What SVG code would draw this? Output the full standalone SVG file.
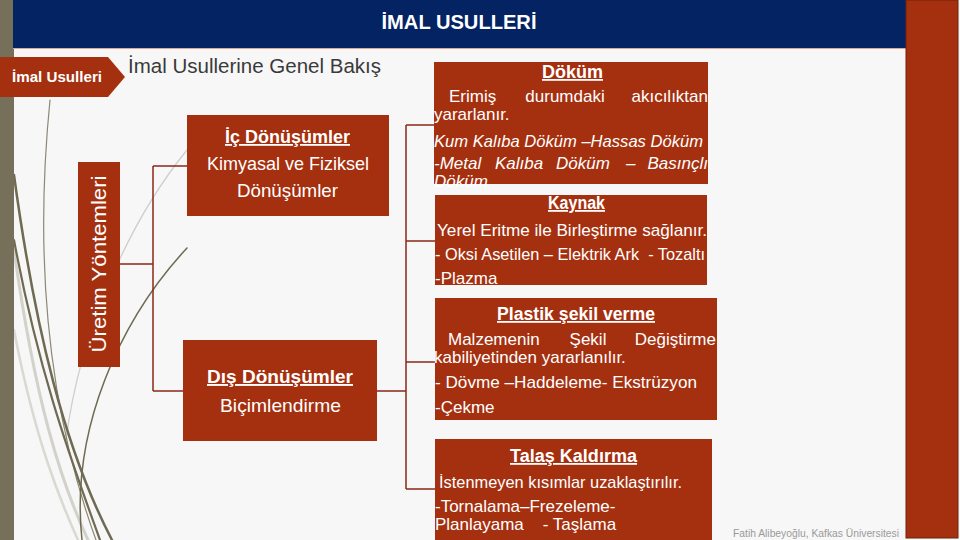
<svg xmlns="http://www.w3.org/2000/svg" width="960" height="540" viewBox="0 0 960 540">
<style>
.box{fill:#a5300f}
.t{fill:#ffffff;font-family:"Liberation Sans",Arial,sans-serif;font-size:17px}
.b{font-weight:bold}
.u{text-decoration:underline}
.i{font-style:italic}
.m{text-anchor:middle}
.e{text-anchor:end}
.conn{fill:none;stroke:#8a2a18;stroke-width:1.5}
.deco{fill:none;stroke-linecap:round}
</style>
<rect x="0" y="0" width="960" height="540" fill="#f7f7f7"/>
<!-- decorative curves -->
<g id="decor">
<path class="deco" d="M 14 250 C 35 400, 60 480, 88 540" stroke="#d2d2cb" stroke-width="3"/>
<path class="deco" d="M 14 330 C 35 440, 60 500, 78 540" stroke="#d9d9d3" stroke-width="2.5"/>
<path class="deco" d="M 66 440 C 80 330, 130 220, 187 150" stroke="#cfcfca" stroke-width="1.3"/>
<path class="deco" d="M 50 100 C 38 220, 38 380, 96 540" stroke="#8d8874" stroke-width="1.2"/>
<path class="deco" d="M 14 175 C 35 330, 65 450, 112 540" stroke="#6f6a52" stroke-width="2.5"/>
<path class="deco" d="M 14 240 C 40 380, 75 470, 100 540" stroke="#6f6a52" stroke-width="2.2"/>
<path class="deco" d="M 82 540 C 70 430, 120 320, 187 248" stroke="#6f6a52" stroke-width="1.5"/>
</g>
<!-- frame -->
<rect x="0" y="0" width="14" height="540" fill="#76705a"/>
<rect x="13" y="0" width="893" height="48" fill="#042363"/>
<line x1="13" y1="48.5" x2="906" y2="48.5" stroke="#d8a999" stroke-width="1"/>
<rect x="906" y="0" width="52" height="538" fill="#a5300f" stroke="#6e200c" stroke-width="1"/>
<text x="459" y="29" class="t b m" style="font-size:20px" textLength="155" lengthAdjust="spacingAndGlyphs">İMAL USULLERİ</text>
<g id="tag">
<polygon points="0,57 108,57 125,77 108,97 0,97" class="box"/>
<text x="57" y="82" class="t b m" style="font-size:15px" textLength="90" lengthAdjust="spacingAndGlyphs">İmal Usulleri</text>
</g>
<text x="128" y="73" style="font-family:'Liberation Sans',Arial,sans-serif;font-size:20.5px;fill:#3a3a3a" textLength="253" lengthAdjust="spacingAndGlyphs">İmal Usullerine Genel Bakış</text>
<!-- connectors -->
<g id="connectors">
<path class="conn" d="M 120 264 H 153 M 153 166 V 391 M 153 166 H 187 M 153 391 H 183"/>
<path class="conn" d="M 377 391 H 406 M 406 125 V 489 M 406 125 H 434 M 406 241 H 435 M 406 362 H 435 M 406 489 H 435"/>
</g>
<g id="uretim">
<rect x="78" y="162" width="42" height="205" class="box"/>
<text x="99" y="271" class="t m" style="font-size:21px" transform="rotate(-90 99 264)" textLength="177" lengthAdjust="spacingAndGlyphs">Üretim Yöntemleri</text>
</g>
<g id="ic">
<rect x="187" y="115" width="202" height="101" class="box"/>
<text x="287.5" y="143" class="t b u m" style="font-size:18px" textLength="125" lengthAdjust="spacingAndGlyphs">İç Dönüşümler</text>
<text x="288" y="170" class="t m" style="font-size:18.5px" textLength="162" lengthAdjust="spacingAndGlyphs">Kimyasal ve Fiziksel</text>
<text x="287.5" y="197" class="t m" style="font-size:18.5px" textLength="101" lengthAdjust="spacingAndGlyphs">Dönüşümler</text>
</g>
<g id="dis">
<rect x="183" y="340" width="194" height="101" class="box"/>
<text x="280" y="383" class="t b u m" style="font-size:19px" textLength="146" lengthAdjust="spacingAndGlyphs">Dış Dönüşümler</text>
<text x="280.5" y="412" class="t m" style="font-size:19px" textLength="121" lengthAdjust="spacingAndGlyphs">Biçimlendirme</text>
</g>
<g id="dokum">
<rect x="434" y="62" width="274" height="122" class="box"/>
<text x="572.5" y="78" class="t b u m" style="font-size:18px" textLength="61" lengthAdjust="spacingAndGlyphs">Döküm</text>
<text x="449" y="102" class="t">Erimiş</text>
<text x="565" y="102" class="t m">durumdaki</text>
<text x="708" y="102" class="t e">akıcılıktan</text>
<text x="434" y="120" class="t">yararlanır.</text>
<text x="434" y="147" class="t i" textLength="269" lengthAdjust="spacingAndGlyphs">Kum Kalıba Döküm –Hassas Döküm</text>
<text x="434" y="169" class="t i">-Metal</text>
<text x="495" y="169" class="t i">Kalıba</text>
<text x="556" y="169" class="t i">Döküm</text>
<text x="626" y="169" class="t i">–</text>
<text x="708" y="169" class="t i e">Basınçlı</text>
<text x="434" y="187" class="t i">Döküm</text>
</g>
<g id="kaynak">
<rect x="435" y="195" width="272" height="90" class="box"/>
<text x="576.5" y="209" class="t b u m" style="font-size:18px" textLength="57" lengthAdjust="spacingAndGlyphs">Kaynak</text>
<text x="437" y="236" class="t" textLength="270" lengthAdjust="spacingAndGlyphs">Yerel Eritme ile Birleştirme sağlanır.</text>
<text x="435" y="260" class="t" xml:space="preserve" style="white-space:pre" textLength="270" lengthAdjust="spacingAndGlyphs">- Oksi Asetilen – Elektrik Ark  - Tozaltı</text>
<text x="435" y="284" class="t">-Plazma</text>
</g>
<g id="plastik">
<rect x="435" y="298" width="282" height="122" class="box"/>
<text x="576" y="320" class="t b u m" style="font-size:18px" textLength="158" lengthAdjust="spacingAndGlyphs">Plastik şekil verme</text>
<text x="448" y="345" class="t">Malzemenin</text>
<text x="588" y="345" class="t m">Şekil</text>
<text x="716" y="345" class="t e">Değiştirme</text>
<text x="434" y="363" class="t">kabiliyetinden yararlanılır.</text>
<text x="435" y="388" class="t" textLength="262" lengthAdjust="spacingAndGlyphs">- Dövme –Haddeleme- Ekstrüzyon</text>
<text x="435" y="413" class="t">-Çekme</text>
</g>
<g id="talas">
<rect x="435" y="439" width="277" height="101" class="box"/>
<text x="573.5" y="462" class="t b u m" style="font-size:18px" textLength="127" lengthAdjust="spacingAndGlyphs">Talaş Kaldırma</text>
<text x="439" y="488" class="t" textLength="243" lengthAdjust="spacingAndGlyphs">İstenmeyen kısımlar uzaklaştırılır.</text>
<text x="435" y="512" class="t">-Tornalama–Frezeleme-</text>
<text x="435" y="530" class="t" xml:space="preserve" style="white-space:pre">Planlayama    - Taşlama</text>
</g>
<text x="733" y="537" style="font-family:'Liberation Sans',Arial,sans-serif;font-size:10.5px;fill:#9a9a9a" textLength="166" lengthAdjust="spacingAndGlyphs">Fatih Alibeyoğlu, Kafkas Üniversitesi</text>
</svg>
